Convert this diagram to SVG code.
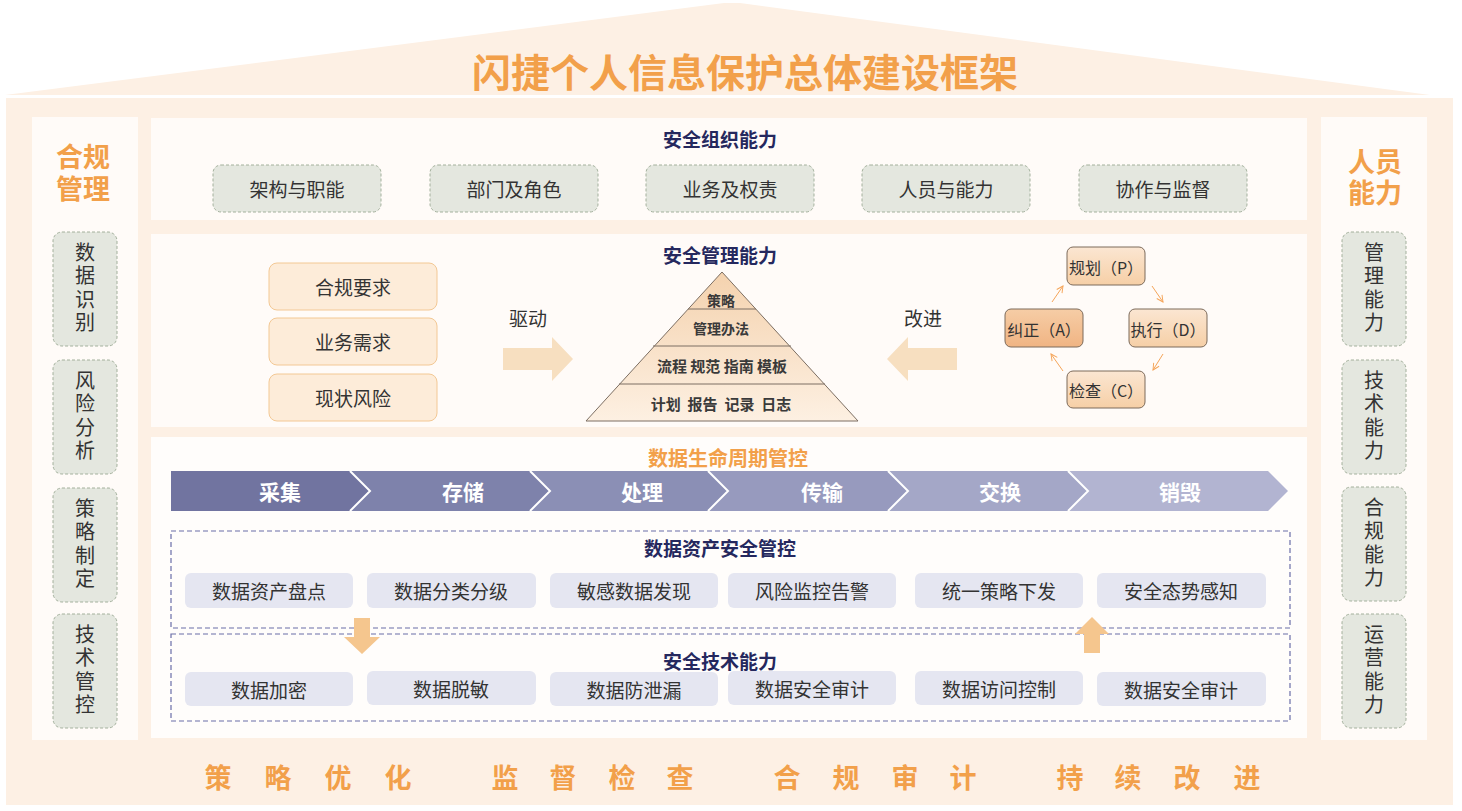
<svg xmlns="http://www.w3.org/2000/svg" width="1462" height="811" viewBox="0 0 1462 811">
<style>
text{font-family:"Noto Sans CJK SC","Noto Sans",sans-serif;dominant-baseline:central;text-anchor:middle}
.ttl{font-size:39px;font-weight:700;fill:#f2a04a}
.side{font-size:27px;font-weight:700;fill:#f2a04a}
.vt{font-size:20px;fill:#333;writing-mode:vertical-rl;letter-spacing:3.5px}
.nv{font-size:19px;font-weight:700;fill:#25285e}
.it{font-size:19px;fill:#333}
.pyr{font-size:14px;font-weight:700;fill:#3a3a3a}
.pyr2{font-size:15px;font-weight:700;fill:#3a3a3a}
.pd{font-size:16px;fill:#333}
.chv{font-size:21px;font-weight:700;fill:#fff}
.lc{font-size:20px;font-weight:700;fill:#f2a04a}
.bt{font-size:27px;font-weight:700;fill:#f2a04a}
.panel{fill:#fffbf8}
.gbox{fill:#e4e7df;stroke:#a3b09c;stroke-width:1;stroke-dasharray:3 2}
.obox{fill:#fdecd9;stroke:#f3c894;stroke-width:1}
.pbox{stroke:#7c6a5a;stroke-width:1}
.lbox{fill:#e5e6f1}
.dash{fill:none;stroke:#6a6ea8;stroke-width:1.2;stroke-dasharray:5 3}
.blk{fill:#f7dfc0}
.oarr{fill:#f5c68e}
.cyc{fill:none;stroke:#f5a55a;stroke-width:1;marker-end:url(#ah)}
.sep{fill:none;stroke:#fff;stroke-width:2}
</style>
<defs>
<marker id="ah" viewBox="0 0 10 10" refX="9" refY="5" markerWidth="8" markerHeight="8" orient="auto" markerUnits="userSpaceOnUse">
<path d="M1,1 L9,5 L1,9" fill="none" stroke="#f5a55a" stroke-width="1.2"/>
</marker>
<linearGradient id="pg" x1="0" y1="0" x2="0" y2="1">
<stop offset="0" stop-color="#f4d2ae"/><stop offset="1" stop-color="#fdf0e2"/>
</linearGradient>
<linearGradient id="bx" x1="0" y1="0" x2="0" y2="1">
<stop offset="0" stop-color="#fbe6d2"/><stop offset="1" stop-color="#f6cfa6"/>
</linearGradient>
<linearGradient id="bxa" x1="0" y1="0" x2="0" y2="1">
<stop offset="0" stop-color="#f6cda6"/><stop offset="1" stop-color="#f0b483"/>
</linearGradient>
</defs>

<!-- background / house -->
<g id="house">
<polygon points="5,95 724,3 740,3 1430,95" fill="#fdf0e4"/>
<rect x="6" y="98" width="1447" height="707" fill="#fdf0e4"/>
<text class="ttl" x="745" y="70">闪捷个人信息保护总体建设框架</text>
</g>

<!-- left column -->
<g id="left-col">
<rect class="panel" x="32" y="117" width="106" height="623"/>
<text class="side"><tspan x="83" y="155">合规</tspan><tspan x="83" y="187">管理</tspan></text>
</g>
<g id="l-1"><rect class="gbox" x="53" y="232" width="64" height="114" rx="9"/><text class="vt" x="85" y="289">数据识别</text></g>
<g id="l-2"><rect class="gbox" x="53" y="360" width="64" height="114" rx="9"/><text class="vt" x="85" y="417">风险分析</text></g>
<g id="l-3"><rect class="gbox" x="53" y="488" width="64" height="114" rx="9"/><text class="vt" x="85" y="545">策略制定</text></g>
<g id="l-4"><rect class="gbox" x="53" y="614" width="64" height="114" rx="9"/><text class="vt" x="85" y="671">技术管控</text></g>

<!-- right column -->
<g id="right-col">
<rect class="panel" x="1321" y="117" width="106" height="623"/>
<text class="side"><tspan x="1375" y="160">人员</tspan><tspan x="1375" y="191">能力</tspan></text>
</g>
<g id="r-1"><rect class="gbox" x="1342" y="232" width="64" height="114" rx="9"/><text class="vt" x="1374" y="289">管理能力</text></g>
<g id="r-2"><rect class="gbox" x="1342" y="360" width="64" height="114" rx="9"/><text class="vt" x="1374" y="417">技术能力</text></g>
<g id="r-3"><rect class="gbox" x="1342" y="487" width="64" height="114" rx="9"/><text class="vt" x="1374" y="544">合规能力</text></g>
<g id="r-4"><rect class="gbox" x="1342" y="614" width="64" height="114" rx="9"/><text class="vt" x="1374" y="671">运营能力</text></g>

<!-- org capability -->
<g id="org">
<rect class="panel" x="151" y="118" width="1156" height="102"/>
<text class="nv" x="720" y="138">安全组织能力</text>
</g>
<g id="org-1"><rect class="gbox" x="213" y="165" width="168" height="47" rx="8"/><text class="it" x="297" y="188">架构与职能</text></g>
<g id="org-2"><rect class="gbox" x="430" y="165" width="168" height="47" rx="8"/><text class="it" x="514" y="188">部门及角色</text></g>
<g id="org-3"><rect class="gbox" x="646" y="165" width="168" height="47" rx="8"/><text class="it" x="730" y="188">业务及权责</text></g>
<g id="org-4"><rect class="gbox" x="862" y="165" width="168" height="47" rx="8"/><text class="it" x="946" y="188">人员与能力</text></g>
<g id="org-5"><rect class="gbox" x="1079" y="165" width="168" height="47" rx="8"/><text class="it" x="1163" y="188">协作与监督</text></g>

<!-- management capability -->
<g id="mgmt">
<rect class="panel" x="151" y="234" width="1156" height="193"/>
<text class="nv" x="720" y="254">安全管理能力</text>
</g>
<g id="m-1"><rect class="obox" x="269" y="263" width="168" height="47" rx="8"/><text class="it" x="353" y="286">合规要求</text></g>
<g id="m-2"><rect class="obox" x="269" y="318" width="168" height="47" rx="8"/><text class="it" x="353" y="341">业务需求</text></g>
<g id="m-3"><rect class="obox" x="269" y="374" width="168" height="47" rx="8"/><text class="it" x="353" y="397">现状风险</text></g>
<g id="drive">
<text class="it" x="528" y="317">驱动</text>
<polygon class="blk" points="503,348 552,348 552,337 573,359 552,381 552,370 503,370"/>
</g>
<g id="improve">
<text class="it" x="923" y="317">改进</text>
<polygon class="blk" points="957,348 908,348 908,337 887,359 908,381 908,370 957,370"/>
</g>
<g id="pyramid">
<polygon points="722,272 858,421 586,421" fill="url(#pg)" stroke="#7c6e62" stroke-width="1"/>
<line x1="688" y1="309" x2="756" y2="309" stroke="#7c6e62" stroke-width="1"/>
<line x1="653" y1="346" x2="791" y2="346" stroke="#7c6e62" stroke-width="1"/>
<line x1="619" y1="384" x2="825" y2="384" stroke="#7c6e62" stroke-width="1"/>
<text class="pyr" x="721" y="300">策略</text>
<text class="pyr" x="721" y="328">管理办法</text>
<text class="pyr2" x="722" y="365" xml:space="preserve">流程 规范 指南 模板</text>
<text class="pyr2" x="721" y="403" xml:space="preserve">计划  报告  记录  日志</text>
</g>
<g id="pdca-p"><rect class="pbox" fill="url(#bx)" x="1067" y="247" width="78" height="38" rx="6"/><text class="pd" x="1106" y="267">规划（P）</text></g>
<g id="pdca-d"><rect class="pbox" fill="url(#bx)" x="1129" y="309" width="78" height="38" rx="6"/><text class="pd" x="1168" y="329">执行（D）</text></g>
<g id="pdca-c"><rect class="pbox" fill="url(#bx)" x="1067" y="371" width="78" height="37" rx="6"/><text class="pd" x="1106" y="390">检查（C）</text></g>
<g id="pdca-a"><rect class="pbox" fill="url(#bxa)" x="1005" y="309" width="78" height="38" rx="6"/><text class="pd" x="1044" y="329">纠正（A）</text></g>

<!-- lifecycle -->
<g id="lifecycle">
<rect x="151" y="437" width="1156" height="301" fill="#fffdfb"/>
<text class="lc" x="728" y="457">数据生命周期管控</text>
</g>
<g id="chevrons">
<polygon points="171,471 350,471 370,491 350,511 171,511" fill="#7174a0"/>
<polygon points="350,471 530,471 550,491 530,511 350,511 370,491" fill="#7e82ab"/>
<polygon points="530,471 708,471 728,491 708,511 530,511 550,491" fill="#8b8fb5"/>
<polygon points="708,471 888,471 908,491 888,511 708,511 728,491" fill="#979abe"/>
<polygon points="888,471 1068,471 1088,491 1068,511 888,511 908,491" fill="#a4a7c7"/>
<polygon points="1068,471 1268,471 1288,491 1268,511 1068,511 1088,491" fill="#b2b4d1"/>
<polyline class="sep" points="350,471 370,491 350,511"/>
<polyline class="sep" points="530,471 550,491 530,511"/>
<polyline class="sep" points="708,471 728,491 708,511"/>
<polyline class="sep" points="888,471 908,491 888,511"/>
<polyline class="sep" points="1068,471 1088,491 1068,511"/>
<text class="chv" x="280" y="491">采集</text>
<text class="chv" x="463" y="491">存储</text>
<text class="chv" x="642" y="491">处理</text>
<text class="chv" x="822" y="491">传输</text>
<text class="chv" x="1000" y="491">交换</text>
<text class="chv" x="1180" y="491">销毁</text>
</g>

<g id="asset">
<rect class="dash" x="171" y="531" width="1119" height="97"/>
<text class="nv" x="720" y="547">数据资产安全管控</text>
</g>
<g id="a-1"><rect class="lbox" x="185" y="573" width="168" height="35" rx="6"/><text class="it" x="269" y="590">数据资产盘点</text></g>
<g id="a-2"><rect class="lbox" x="367" y="573" width="169" height="35" rx="6"/><text class="it" x="451" y="590">数据分类分级</text></g>
<g id="a-3"><rect class="lbox" x="550" y="573" width="168" height="35" rx="6"/><text class="it" x="634" y="590">敏感数据发现</text></g>
<g id="a-4"><rect class="lbox" x="728" y="573" width="168" height="35" rx="6"/><text class="it" x="812" y="590">风险监控告警</text></g>
<g id="a-5"><rect class="lbox" x="915" y="573" width="168" height="35" rx="6"/><text class="it" x="999" y="590">统一策略下发</text></g>
<g id="a-6"><rect class="lbox" x="1097" y="573" width="169" height="35" rx="6"/><text class="it" x="1181" y="590">安全态势感知</text></g>

<g id="tech">
<rect class="dash" x="171" y="634" width="1119" height="87"/>
<text class="nv" x="720" y="660">安全技术能力</text>
</g>
<g id="t-1"><rect class="lbox" x="185" y="672" width="168" height="34" rx="6"/><text class="it" x="269" y="689">数据加密</text></g>
<g id="t-2"><rect class="lbox" x="367" y="671" width="169" height="34" rx="6"/><text class="it" x="451" y="688">数据脱敏</text></g>
<g id="t-3"><rect class="lbox" x="550" y="672" width="168" height="34" rx="6"/><text class="it" x="634" y="689">数据防泄漏</text></g>
<g id="t-4"><rect class="lbox" x="728" y="671" width="168" height="34" rx="6"/><text class="it" x="812" y="688">数据安全审计</text></g>
<g id="t-5"><rect class="lbox" x="915" y="671" width="168" height="34" rx="6"/><text class="it" x="999" y="688">数据访问控制</text></g>
<g id="t-6"><rect class="lbox" x="1097" y="672" width="169" height="34" rx="6"/><text class="it" x="1181" y="689">数据安全审计</text></g>

<!-- connectors -->
<g id="connectors">
<path class="cyc" d="M1152,286 L1163,302"/>
<path class="cyc" d="M1163,354 L1153,370"/>
<path class="cyc" d="M1063,371 L1051,354"/>
<path class="cyc" d="M1052,302 L1063,286"/>
<polygon class="oarr" points="354,618 370,618 370,637 380,637 362,654 344,637 354,637"/>
<polygon class="oarr" points="1084,653 1100,653 1100,634 1109,634 1092,617 1075,634 1084,634"/>
</g>

<!-- bottom -->
<g id="bottom">
<text class="bt" y="776" x="218 278 338 398 505 563 622 680 787 846 905 963 1070 1128 1187 1247">策略优化监督检查合规审计持续改进</text>
</g>
</svg>
